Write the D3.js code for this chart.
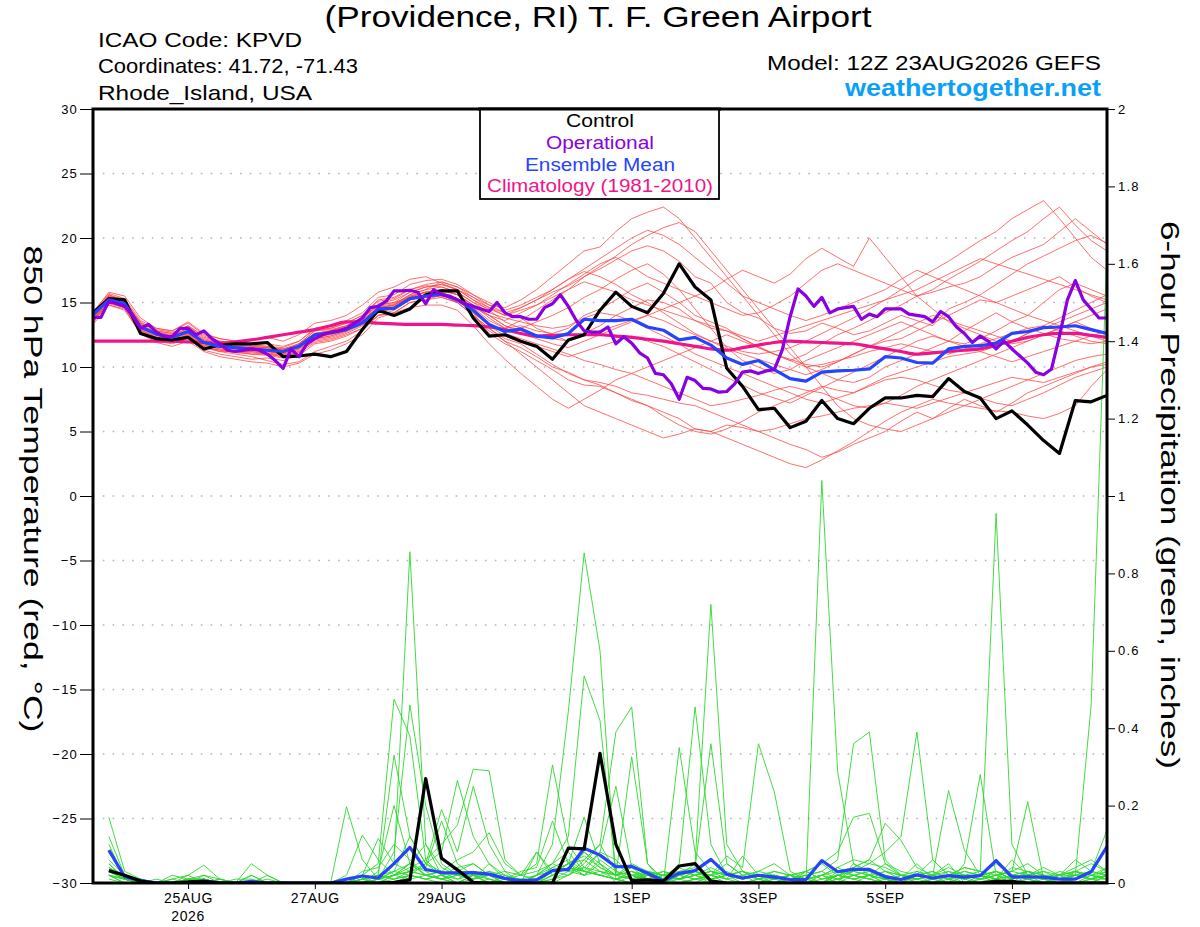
<!DOCTYPE html>
<html>
<head>
<meta charset="utf-8">
<script src="https://cdn.jsdelivr.net/npm/d3@7"></script>
<style>
body { margin: 0; background: #fff; }
svg { font-family: "Liberation Sans", Arial, Helvetica, sans-serif; }
</style>
</head>
<body>
<svg id="chart" width="1200" height="927"></svg>
<script>
// run info
const runStart = Date.UTC(2026, 7, 23, 12);
const SIX_H = 6 * 3600 * 1000;

// axis ticks
const tempTicks = [-30, -25, -20, -15, -10, -5, 0, 5, 10, 15, 20, 25, 30];
const tempGrid = [-25, -20, -15, -10, -5, 0, 5, 10, 15, 20, 25];
const precipTicks = [0, 0.2, 0.4, 0.6, 0.8, 1, 1.2, 1.4, 1.6, 1.8, 2];
const precipTickLabels = ["0", "0.2", "0.4", "0.6", "0.8", "1", "1.2", "1.4", "1.6", "1.8", "2"];
const dateTicks = [Date.UTC(2026, 7, 25), Date.UTC(2026, 7, 27), Date.UTC(2026, 7, 29), Date.UTC(2026, 8, 1),
                   Date.UTC(2026, 8, 3), Date.UTC(2026, 8, 5), Date.UTC(2026, 8, 7)];
const dateTickLabels = ["25AUG", "27AUG", "29AUG", "1SEP", "3SEP", "5SEP", "7SEP"];

// 850 hPa temperature, 6-hourly from 12Z 23AUG (65 values)
const controlTemp = [14.2,15.3,15.2,12.6,12.2,12.1,12.3,11.4,11.7,11.8,11.8,11.9,10.8,10.85,11.0,10.8,
  11.2,12.9,14.4,14.0,14.5,15.6,15.9,15.9,13.8,12.4,12.5,12.0,11.6,10.6,12.1,12.5,
  14.4,15.8,14.7,14.2,15.7,18.0,16.2,15.2,9.9,8.5,6.7,6.8,5.3,5.8,7.4,6.0,
  5.6,6.8,7.6,7.6,7.8,7.7,9.1,8.1,7.6,6.0,6.6,5.5,4.3,3.3,7.4,7.3,7.8];
const meanTemp = [14.05,15.2,14.9,13.1,12.55,12.3,12.75,11.9,11.6,11.5,11.4,11.3,11.2,11.6,12.5,12.65,
  12.9,13.4,14.5,14.55,15.3,15.5,15.65,15.2,14.4,13.3,12.75,12.95,12.4,12.25,12.6,13.7,
  13.6,13.6,13.7,13.1,12.85,12.1,12.3,11.7,10.7,10.2,10.5,9.8,9.1,8.9,9.6,9.7,
  9.75,9.85,10.8,10.7,10.35,10.3,11.4,11.6,11.65,11.85,12.6,12.75,13.05,13.1,13.2,12.9,12.6];
const climoTemp = [12.0,12.0,12.0,12.0,12.0,12.0,11.95,11.9,11.85,11.95,12.1,12.3,12.5,12.7,12.9,13.2,
  13.5,13.5,13.4,13.35,13.3,13.3,13.3,13.25,13.2,13.1,12.9,12.6,12.4,12.45,12.5,12.5,
  12.5,12.4,12.3,12.15,12.0,11.8,11.6,11.4,11.3,11.5,11.7,11.9,12.0,11.95,11.9,11.85,
  11.8,11.6,11.4,11.2,11.0,11.1,11.2,11.3,11.4,11.7,12.0,12.3,12.5,12.6,12.6,12.45,12.3];
// operational run is 3-hourly (129 values)
const operTemp = [13.85,13.85,15.1,14.9,14.7,14.0,13.0,13.3,12.7,12.35,12.35,13.0,13.0,12.5,12.8,12.2,
  11.8,11.3,11.2,11.3,11.4,11.3,11.0,10.5,9.9,11.4,10.8,11.8,12.2,12.5,12.7,12.8,
  13.0,13.4,13.8,14.6,14.7,15.1,15.9,15.9,15.95,15.8,14.9,16.0,15.6,15.5,15.2,14.9,
  14.7,14.5,14.3,15.0,14.2,13.9,13.9,13.7,13.7,14.6,14.9,15.6,14.7,13.6,12.8,12.7,
  12.7,13.1,11.8,12.35,11.85,11.1,10.7,9.5,9.4,8.7,7.5,9.2,8.95,8.35,8.3,8.05,
  8.1,8.7,9.6,9.7,9.5,9.7,9.8,11.3,13.9,16.05,15.5,14.7,15.4,14.2,14.5,14.6,
  14.7,13.7,14.1,13.9,14.5,14.5,14.5,14.1,14.0,13.9,13.5,14.3,13.9,13.1,12.6,11.9,
  12.4,12.0,11.4,12.0,11.4,10.85,10.3,9.6,9.4,9.85,12.4,15.2,16.7,15.2,14.5,13.8,13.8];

// ensemble members, temperature
const tMem01 = [13.8,15.6,15.0,13.5,12.8,12.6,13.2,12.4,12.0,11.9,11.7,11.6,11.5,12.0,12.9,13.0,
  13.4,14.0,15.2,15.4,16.0,16.3,16.2,15.8,15.0,14.5,14.0,14.6,15.2,15.8,16.3,17.0,
  17.6,18.3,19.0,19.4,19.0,18.2,17.0,16.5,15.0,14.2,13.8,13.0,12.6,12.8,13.4,13.0,
  12.5,12.8,13.4,14.0,13.6,13.2,14.5,15.0,15.6,16.4,17.2,18.0,18.6,19.2,19.8,20.2,19.6];
const tMem02 = [13.5,15.0,14.6,12.8,12.0,11.8,12.2,11.3,11.0,10.8,10.6,10.7,10.5,10.9,11.8,12.0,
  12.4,13.0,14.0,14.2,15.0,15.2,15.6,15.0,14.0,12.8,12.0,11.5,10.8,10.0,9.6,9.0,
  8.6,8.0,7.4,7.0,6.5,6.0,5.2,5.0,5.5,5.3,5.0,4.5,4.0,3.6,3.0,3.4,
  4.0,4.5,5.0,5.8,6.5,6.0,6.8,7.5,7.0,6.5,7.2,8.0,8.5,9.0,9.5,10.0,10.4];
const tMem03 = [14.2,15.8,15.5,13.8,13.0,12.8,13.5,12.6,12.2,12.0,12.1,12.3,12.0,12.5,13.4,13.6,
  14.0,14.8,15.8,16.2,16.8,17.0,16.5,16.0,15.4,14.8,14.6,15.2,16.0,17.0,18.0,19.0,
  19.3,20.5,21.5,22.0,22.4,21.5,20.0,18.5,17.0,15.5,14.0,12.5,11.0,10.0,9.5,9.0,
  8.8,9.2,10.0,10.5,11.0,11.5,12.0,12.8,13.5,14.2,13.5,13.0,12.6,12.2,12.0,11.8,12.0];
const tMem04 = [13.6,14.8,14.5,12.6,12.2,12.0,12.4,11.6,11.2,11.2,11.0,11.0,11.0,11.4,12.2,12.4,
  12.8,13.5,14.5,14.8,15.5,15.8,15.9,15.6,14.8,13.8,13.0,13.2,12.8,12.6,13.0,14.0,
  14.5,15.2,16.0,16.5,15.8,15.0,14.0,13.5,13.0,12.2,11.5,11.0,10.5,11.0,11.8,12.5,
  13.0,13.6,14.2,14.8,15.5,16.0,16.8,17.5,18.2,19.0,19.8,20.5,21.5,22.4,21.0,19.8,19.0];
const tMem05 = [13.4,15.2,14.8,12.9,12.3,12.0,12.5,11.5,11.2,11.0,10.8,10.5,10.2,10.4,11.2,11.6,
  12.0,12.8,14.0,14.4,15.2,15.6,15.8,15.3,14.2,12.6,11.8,11.2,10.5,9.8,9.0,8.6,
  8.5,8.0,7.5,7.0,6.2,5.5,5.0,4.8,5.2,5.8,6.5,7.0,7.5,8.0,8.5,8.2,
  8.0,8.5,9.0,9.2,9.0,8.6,8.2,8.0,7.6,7.2,7.0,7.5,8.0,8.6,9.2,9.6,10.0];
const tMem06 = [14.0,15.4,15.1,13.2,12.7,12.5,13.0,12.1,11.8,11.6,11.5,11.4,11.2,11.5,12.4,12.7,
  13.0,13.6,14.6,14.8,15.6,16.0,16.6,16.2,15.6,14.8,14.2,13.8,13.0,12.5,12.0,12.6,
  13.2,14.0,14.6,15.2,15.0,14.5,13.6,13.0,12.8,12.2,11.6,11.0,10.6,10.2,10.0,10.4,
  11.0,11.6,12.0,12.2,12.8,13.4,14.0,14.6,15.2,15.0,14.5,14.0,13.6,13.2,12.8,12.4,12.0];
const tMem07 = [13.8,15.0,14.8,13.0,12.4,12.2,12.8,11.8,11.6,11.4,11.4,11.2,11.0,11.8,12.8,12.9,
  13.2,13.8,14.8,15.0,15.4,15.4,15.5,15.2,14.6,14.0,13.6,14.2,14.8,15.6,16.4,17.2,
  18.0,18.5,17.8,17.0,16.5,16.0,15.5,15.0,14.5,14.0,14.2,14.8,15.5,16.5,17.5,18.0,
  17.5,17.0,16.5,16.0,15.5,15.8,16.2,16.5,17.0,17.8,18.5,19.0,19.5,20.5,21.5,20.5,19.5];
const tMem08 = [13.6,15.3,14.9,13.1,12.5,12.2,12.6,11.7,11.4,11.2,11.2,11.0,10.8,11.2,12.0,12.2,
  12.6,13.2,14.2,14.6,15.4,15.6,15.4,15.0,14.0,13.0,12.0,11.0,10.0,9.0,8.0,7.0,
  6.5,6.0,5.5,5.0,4.5,4.8,5.2,5.0,4.5,4.0,3.5,3.0,2.5,2.2,2.8,3.5,
  4.2,5.0,5.8,6.5,7.0,7.5,7.2,7.0,6.8,6.6,6.5,6.2,6.0,6.4,7.0,8.5,9.8];
const tMem09 = [14.1,15.5,15.2,13.4,12.9,12.7,13.1,12.2,11.9,11.8,11.6,11.5,11.4,11.7,12.6,12.8,
  13.2,13.8,14.9,15.2,15.8,16.2,16.4,16.0,15.2,14.4,13.5,13.0,13.5,14.0,14.6,15.4,
  16.0,16.8,17.5,18.0,17.2,16.0,14.5,13.0,11.5,10.5,10.0,9.5,9.8,10.5,11.0,11.5,
  12.0,12.5,13.0,13.5,13.0,12.5,12.0,11.8,12.2,12.8,13.5,14.0,15.0,16.0,16.5,16.0,15.5];
const tMem10 = [13.9,15.1,14.7,12.9,12.3,12.1,12.6,11.8,11.5,11.4,11.3,11.2,11.0,11.4,12.4,12.6,
  13.0,13.6,14.6,14.8,15.4,15.8,16.0,15.6,14.8,14.0,13.2,12.6,12.2,11.8,11.5,12.0,
  12.5,13.0,13.5,14.0,14.5,15.0,15.5,16.0,16.8,17.5,17.0,16.5,17.2,18.4,19.2,18.5,
  17.8,20.0,18.5,17.0,15.5,14.5,13.5,13.0,12.5,12.0,11.8,12.0,12.5,13.0,13.5,14.0,14.5];
const tMem11 = [13.3,14.8,14.4,12.6,11.9,11.6,12.0,11.2,10.8,10.6,10.4,10.3,10.0,10.3,11.0,11.3,
  11.8,12.5,13.8,14.2,15.0,15.2,15.4,15.0,14.0,13.0,12.2,11.8,11.0,10.2,9.5,9.0,
  8.8,8.5,8.0,7.8,7.5,7.2,7.0,6.5,6.0,5.5,5.0,5.2,5.6,6.0,6.2,6.5,
  6.8,7.0,7.2,7.0,6.8,7.2,7.6,8.0,8.4,8.8,9.2,9.0,8.8,9.2,9.6,10.0,10.2];
const tMem12 = [14.3,15.7,15.3,13.6,13.0,12.8,13.4,12.5,12.2,12.0,11.8,11.8,11.6,12.0,13.0,13.2,
  13.6,14.2,15.4,15.6,16.4,16.7,16.8,16.4,15.6,15.0,14.4,14.8,15.4,16.0,16.8,17.6,
  18.4,19.2,20.0,20.6,20.2,19.5,18.5,17.5,16.5,15.5,15.0,14.5,14.0,13.6,14.0,14.5,
  15.0,15.5,16.0,16.8,17.5,17.0,16.5,16.0,15.5,15.0,15.5,16.0,16.5,17.0,16.2,15.5,15.0];
const tMem13 = [13.7,14.9,14.6,12.7,12.1,11.9,12.3,11.5,11.3,11.1,11.0,10.9,10.7,11.1,11.9,12.1,
  12.5,13.0,14.0,14.2,14.6,14.8,14.8,14.4,13.2,11.8,10.6,9.5,8.5,7.5,6.8,7.5,
  8.2,9.0,9.5,10.0,10.5,11.0,11.5,12.0,12.5,12.0,11.5,11.0,10.5,10.0,10.2,10.5,
  10.8,11.2,11.5,11.8,11.5,11.2,11.0,11.4,11.8,12.2,12.6,13.0,13.2,12.8,12.4,12.0,11.8];
const tMem14 = [14.0,15.3,15.0,13.3,12.6,12.4,12.9,12.0,11.7,11.6,11.5,11.5,11.3,11.8,12.6,12.8,
  13.1,13.7,14.7,14.9,15.6,16.0,16.2,15.8,15.0,14.2,13.8,13.5,13.2,13.0,13.2,13.8,
  14.2,14.0,13.6,13.0,12.4,11.8,11.0,10.5,10.0,9.5,9.0,8.5,8.0,7.5,7.2,7.6,
  8.0,8.6,9.2,9.6,10.0,10.4,10.8,11.0,11.2,11.6,12.0,12.6,13.0,13.5,14.0,14.5,15.0];
const tMem15 = [13.5,15.0,14.7,12.9,12.2,12.0,12.5,11.7,11.4,11.2,11.2,11.1,10.9,11.3,12.2,12.4,
  12.8,13.4,14.5,14.7,15.4,15.8,16.0,15.6,14.6,13.6,13.0,13.6,14.4,15.2,16.0,17.0,
  17.8,18.6,19.5,20.2,20.8,21.2,20.5,19.0,17.5,16.0,14.5,13.0,11.5,10.0,8.5,7.0,
  6.0,5.5,5.2,5.0,5.5,6.0,6.5,7.0,7.5,8.0,8.5,9.0,9.5,10.0,10.5,10.8,11.0];
const tMem16 = [13.9,15.2,14.9,13.1,12.5,12.3,12.8,11.9,11.6,11.5,11.4,11.3,11.1,11.6,12.5,12.7,
  13.0,13.6,14.6,14.8,15.5,15.8,16.0,15.6,14.8,14.0,13.2,12.8,12.5,12.2,12.0,12.4,
  12.8,13.2,13.6,14.0,13.6,13.0,12.5,12.0,11.6,11.2,11.0,11.2,11.5,12.0,12.6,13.2,
  13.8,14.5,15.2,16.0,16.8,17.5,18.2,19.0,19.8,20.5,21.5,22.2,22.9,21.5,20.0,18.5,17.5];
const tMem17 = [13.6,15.4,15.0,13.2,12.6,12.4,12.8,11.9,11.6,11.4,11.3,11.2,11.1,11.5,12.3,12.5,
  12.9,13.5,14.4,14.6,15.3,15.6,15.7,15.3,14.4,13.4,12.6,12.2,11.8,11.4,11.0,10.5,
  10.2,9.8,9.5,9.0,8.5,8.0,7.5,7.0,7.2,7.5,7.8,8.2,8.5,8.2,8.0,7.5,
  7.0,6.8,7.2,7.8,8.5,9.0,9.5,10.0,10.5,11.0,11.5,12.0,12.5,13.0,13.5,13.0,12.5];
const tMem18 = [14.2,15.6,15.2,13.4,12.8,12.6,13.2,12.3,12.0,11.8,11.7,11.6,11.4,11.8,12.8,13.0,
  13.4,14.0,15.1,15.3,16.0,16.4,16.6,16.2,15.4,14.6,14.0,14.4,14.8,15.4,16.0,16.6,
  16.2,15.8,15.2,14.8,14.4,14.0,13.6,13.2,12.8,12.4,12.0,12.4,12.8,13.2,13.6,14.0,
  14.4,14.8,15.2,15.6,16.0,16.6,17.2,17.8,18.4,18.0,17.6,17.2,16.8,16.4,16.0,15.6,15.2];
const tMem19 = [13.7,15.0,14.7,12.8,12.2,12.0,12.5,11.6,11.3,11.2,11.1,11.0,10.8,11.2,12.1,12.3,
  12.7,13.3,14.3,14.5,15.2,15.5,15.6,15.2,14.2,13.2,12.4,12.0,11.6,11.2,10.8,11.2,
  11.6,12.0,12.4,12.0,11.6,11.0,10.4,9.8,9.2,8.6,8.0,7.6,7.2,7.8,8.4,9.0,
  9.6,10.2,10.8,11.4,12.0,12.4,12.0,11.6,11.2,10.8,10.4,10.8,11.2,11.6,12.0,12.4,12.8];
const tMem20 = [14.0,15.5,15.1,13.3,12.7,12.4,13.0,12.1,11.8,11.7,11.6,11.5,11.3,11.7,12.6,12.8,
  13.2,13.8,14.8,15.0,15.8,16.2,16.4,16.0,15.2,14.6,14.2,14.6,15.2,16.0,16.8,17.4,
  17.0,16.4,15.6,15.0,14.2,13.4,12.6,12.0,11.4,11.0,10.6,10.2,9.8,9.4,9.8,10.4,
  11.0,11.6,12.2,12.8,13.4,14.0,13.6,13.2,12.8,12.4,12.0,12.6,13.2,13.8,14.4,15.0,15.6];
const tMembers = [tMem01, tMem02, tMem03, tMem04, tMem05, tMem06, tMem07, tMem08, tMem09, tMem10,
                  tMem11, tMem12, tMem13, tMem14, tMem15, tMem16, tMem17, tMem18, tMem19, tMem20];

// 6-hour precipitation, 18Z 23AUG onward (64 values)
const controlPrecip = [.032,.02,.005,0,0,.003,.004,0,0,0,0,0,0,0,0,0,
  0,0,.002,.008,.27,.064,.034,.002,0,0,0,0,0,.09,.088,.335,
  .1,.006,.008,.005,.044,.05,.005,0,0,0,0,0,0,0,0,0,
  0,0,0,0,0,0,0,0,.004,.004,0,0,0,0,0,0];
const meanPrecip = [.085,.016,.006,0,0,.002,.005,.001,0,.004,0,0,0,0,0,.01,
  .018,.013,.05,.092,.035,.027,.026,.027,.023,.012,.006,.008,.032,.035,.09,.072,
  .042,.043,.025,.006,.025,.032,.061,.023,.013,.02,.015,.009,.009,.058,.029,.035,
  .035,.016,.009,.021,.013,.019,.015,.019,.058,.016,.016,.015,.01,.01,.029,.094];

const pMem01 = [.17,.03,.01,0,0,.01,.01,0,0,0,0,0,0,0,0,.197, .06,.01,0,.02,.01,0,0,.02,0,0,0,0,.02,.05,.17,.05,
  0,.02,0,0,0,.01,0,0,0,0,0,.01,0,0,0,.02, .01,0,0,0,.01,0,0,.02,0,0,.01,0,0,0,.01,0];
const pMem02 = [.12,.02,.01,0,.01,.02,.046,.01,0,0,0,0,0,0,0,.02, .124,.06,.02,.05,.03,.01,0,.02,.01,0,0,0,0,.02,.06,.1,
  .39,.455,.05,0,.01,.02,0,0,0,.01,0,0,.01,0,.01,.03, .02,0,0,.02,0,.01,0,0,.01,0,0,0,.02,0,0,.02];
const pMem03 = [.1,.01,0,0,0,.01,.01,0,0,.05,.02,0,0,0,0,0, .02,.115,.05,.03,.02,.01,0,0,.01,0,0,0,.01,.03,.04,.08,
  .25,.04,.01,0,0,.01,.02,0,0,0,.01,.02,0,0,.02,.01, 0,.01,0,0,.01,.02,.04,.03,.955,.1,.02,0,.01,0,0,.02];
const pMem04 = [.08,.02,.01,0,.02,.01,.02,.01,0,0,.02,0,0,0,0,0, .02,.05,.475,.38,.06,.02,.01,.03,.02,0,.01,0,.02,.04,.03,.02,
  .01,0,.02,.01,0,.01,.01,0,0,0,.02,.01,0,0,.02,.03, .02,.01,0,.03,.02,0,.05,.28,.02,0,.01,0,0,.01,.02,.01];
const pMem05 = [.06,.02,0,0,0,0,.01,0,0,.02,0,0,0,0,0,0, 0,.02,.33,.12,.05,.02,0,.02,0,.02,0,0,.03,.05,.02,.03,
  .02,.326,.05,.01,.01,.03,.02,.01,0,0,0,0,.01,.02,.01,0, .02,0,.01,.01,.02,.05,0,.01,.02,.03,.21,.01,0,0,.02,.03];
const pMem06 = [.05,.01,0,0,.01,0,.02,0,0,0,0,0,0,0,0,0, 0,.03,.2,.05,.02,.01,.03,.05,.02,.01,0,.02,.05,.08,.03,.02,
  .05,.02,.02,0,.35,.08,.03,.02,0,.01,.03,.02,0,.02,0,.05, .02,.05,.02,0,.01,.02,0,.01,.02,.03,.05,.02,.02,.06,.03,.137];
const pMem07 = [.04,.01,0,0,0,.01,.01,0,0,0,0,0,0,0,0,0, .03,.04,.1,.06,.02,.01,.02,.02,0,.01,0,.08,.02,.04,.02,.05,
  .02,.05,.03,.01,.05,.455,.1,.02,.01,.02,0,.02,.01,.02,.04,.02, .01,.03,.02,.02,.03,.01,.02,.03,.01,0,.03,.01,.02,.02,.01,.04];
const pMem08 = [.03,.01,0,0,0,0,0,.01,0,0,0,0,0,0,0,0, .01,.02,.05,.856,.1,.02,0,.01,.02,0,0,.01,.03,.05,.06,.03,
  .01,0,.03,.01,.02,.05,.72,.1,.03,.01,0,.01,.02,0,.01,.02, .01,0,.02,.01,0,.02,.01,0,.01,.02,0,.01,0,.02,.01,.01];
const pMem09 = [.02,.01,0,0,0,.01,0,0,0,0,.01,0,0,0,0,0, 0,.01,.08,.46,.2,.05,.02,.01,.05,.01,0,0,.01,.02,.05,.1,
  .03,.01,0,.02,.01,0,.02,.05,.02,0,.01,.02,0,.01,.02,.01, .02,.01,0,.01,.02,.01,0,.02,.03,.01,.02,.01,.03,.02,.46,1.64];
const pMem10 = [.03,.02,.01,0,0,0,.01,0,0,.02,0,0,0,0,0,0, .02,.01,.03,.12,.05,.03,.02,.01,.03,.01,0,.02,.04,.06,.03,.08,
  .06,.02,.01,.02,.03,.04,.36,.05,.02,.01,0,.01,0,0,.03,.02, .03,.02,.01,.05,.01,0,.02,.01,0,.02,.03,.02,.01,.02,.01,.02];
const pMem11 = [.02,0,0,0,0,0,0,0,0,0,0,0,0,0,0,0, .01,0,.02,.05,.1,.04,.02,.03,.01,0,0,.02,.05,.03,.08,.05,
  .02,.03,.01,0,.02,.01,.02,.07,.04,.36,.236,.03,.01,0,.02,.01, .02,.01,0,.02,.03,.01,.02,.02,0,.01,.02,.04,.02,0,.01,.02];
const pMem12 = [.03,.01,0,.01,0,0,.01,0,0,0,0,0,0,0,0,0, .01,0,.01,.02,.05,.19,.08,.25,.1,.03,0,.02,.03,.05,.07,.04,
  .02,.01,.03,.02,.01,.03,.02,.01,.07,.02,.01,0,.03,.05,.02,.04, .06,.03,.02,.01,.02,.04,.02,.01,.02,.03,.02,.01,0,.03,.05,.03];
const pMem13 = [.02,.01,.01,0,0,.01,0,0,.01,.01,0,0,0,0,0,0, 0,0,.02,.03,.04,.16,.05,.02,.02,.01,0,0,.02,.04,.03,.02,
  .01,0,.02,.01,.03,.02,.04,.02,.01,.02,.01,.02,0,1.04,.288,.05, .03,.02,.01,.02,.01,.03,.01,.02,.05,.02,.01,.02,.01,.02,.01,.03];
const pMem14 = [.05,.01,0,0,0,0,.01,0,0,0,0,0,0,0,0,0, .01,.02,.01,.03,.05,.08,.265,.12,.05,.02,0,.01,.04,.03,.02,.06,
  .03,.02,.01,0,.02,.03,.01,.02,.03,.01,.02,.01,.02,.03,.06,.36, .39,.06,.02,.01,.02,.03,.02,.01,.03,.02,.01,0,.02,.03,.02,.01];
const pMem15 = [.04,.02,.01,0,0,.02,0,.01,0,0,0,0,0,0,0,0, 0,.01,.02,.04,.06,.1,.15,.294,.29,.06,.02,.08,.03,.02,.04,.03,
  .02,.04,.03,.02,.01,.02,.03,.01,.02,.03,.05,.02,.01,.02,.04,.06, .05,.04,.02,.03,.01,.02,.03,.02,.01,.04,.03,.02,.01,.03,.02,.04];
const pMem16 = [.03,.01,0,0,0,0,0,0,0,0,0,0,0,0,0,0, .02,.01,.03,.05,.02,.03,.06,.08,.13,.05,.02,.01,.03,.05,.08,.04,
  .02,.03,.01,.02,.04,.02,.03,.02,.01,.03,.02,.01,.03,.05,.08,.17, .18,.05,.03,.02,.01,.02,.04,.03,.02,.01,.03,.02,.01,.02,.03,.02];
const pMem17 = [.02,.01,0,0,0,0,0,0,0,0,0,0,0,0,0,0, .01,.02,.03,.02,.01,.02,.04,.05,.02,.03,.02,.05,.305,.1,.04,.02,
  .01,.02,.03,.02,.01,.02,.03,.02,.01,.02,.03,.02,.01,.02,.03,.04, .06,.154,.11,.04,.02,.01,.03,.02,.01,.02,.03,.01,.02,.03,.01,.02];
const pMem18 = [.02,0,0,0,0,0,0,0,0,0,0,0,0,0,0,0, 0,.01,.02,.03,.02,.01,.02,.03,.02,.01,.03,.04,.16,.05,.03,.02,
  .01,.03,.02,.01,.02,.03,.01,.02,.03,.02,.01,.02,.03,.01,.02,.03, .05,.08,.12,.39,.06,.02,.01,.02,.03,.01,.02,.03,.01,.02,.03,.02];
const pMem19 = [.01,0,0,0,0,0,0,0,0,0,0,0,0,0,0,0, 0,.01,.02,.01,.02,.03,.01,.02,.03,.02,.01,.02,.1,.443,.853,.6,
  .01,.02,.01,.03,.02,.01,.02,.03,.01,.02,.01,.02,.03,.01,.02,.01, .02,.03,.01,.02,.06,.02,.01,.02,.03,.01,.02,.01,.02,.03,.02,.01];
const pMem20 = [.02,.01,0,0,0,0,0,0,0,0,0,0,0,0,0,0, .01,.02,.01,.02,.01,.02,.03,.01,.02,.01,.02,.03,.05,.12,.535,.42,
  .02,.01,.02,.03,.01,.02,.01,.02,.03,.01,.02,.01,.02,.03,.01,.02, .03,.01,.02,.01,.02,.239,.085,.02,.01,.06,.02,.03,.02,.04,.06,.03];
const pMembers = [pMem01, pMem02, pMem03, pMem04, pMem05, pMem06, pMem07, pMem08, pMem09, pMem10,
                  pMem11, pMem12, pMem13, pMem14, pMem15, pMem16, pMem17, pMem18, pMem19, pMem20];

const legendItems = [
    { label: "Control", color: "#000000", width: 68 },
    { label: "Operational", color: "#8a00e0", width: 108 },
    { label: "Ensemble Mean", color: "#2444ff", width: 150 },
    { label: "Climatology (1981-2010)", color: "#f0148a", width: 226 }
];

const plot = { left: 93, right: 1107, top: 109, bottom: 883 };
const svg = d3.select("#chart");

const x = d3.scaleUtc()
    .domain([new Date(runStart), new Date(runStart + 64 * SIX_H)])
    .range([plot.left, plot.right]);
const yT = d3.scaleLinear().domain([-30, 30]).range([plot.bottom, plot.top]);
const yP = d3.scaleLinear().domain([0, 2]).range([plot.bottom, plot.top]);

function time6(i) { return new Date(runStart + i * SIX_H); }

function drawHeader() {
    const txt = (xp, yp, s, size, len, anchor) => svg.append("text")
        .attr("x", xp).attr("y", yp)
        .attr("font-size", size)
        .attr("text-anchor", anchor || "start")
        .attr("textLength", len)
        .attr("lengthAdjust", "spacingAndGlyphs")
        .text(s);
    txt(598, 27, "(Providence, RI) T. F. Green Airport", 30, 547, "middle");
    txt(98, 47, "ICAO Code: KPVD", 21, 204);
    txt(98, 73, "Coordinates: 41.72, -71.43", 21, 260);
    txt(98, 100, "Rhode_Island, USA", 21, 214);
    txt(1101, 70, "Model: 12Z 23AUG2026 GEFS", 21, 334, "end");
    txt(1101, 96, "weathertogether.net", 23, 256, "end")
        .attr("font-weight", "bold")
        .attr("fill", "#0aa0f8");
}

function drawAxes() {
    // dotted grid
    svg.append("g").selectAll("line")
        .data(tempGrid)
        .join("line")
        .attr("x1", plot.left).attr("x2", plot.right)
        .attr("y1", d => yT(d)).attr("y2", d => yT(d))
        .attr("stroke", "#b4b4b4")
        .attr("stroke-width", 1.6)
        .attr("stroke-dasharray", "1.6,8.2");

    const left = svg.append("g")
        .attr("transform", `translate(${plot.left},0)`)
        .call(d3.axisLeft(yT).tickValues(tempTicks).tickSize(13).tickPadding(2));
    const right = svg.append("g")
        .attr("transform", `translate(${plot.right},0)`)
        .call(d3.axisRight(yP).tickValues(precipTicks).tickSize(8).tickPadding(3)
            .tickFormat((d, i) => precipTickLabels[i]));
    const bottom = svg.append("g")
        .attr("transform", `translate(0,${plot.bottom})`)
        .call(d3.axisBottom(x).tickValues(dateTicks.map(d => new Date(d))).tickSize(6).tickPadding(4)
            .tickFormat((d, i) => dateTickLabels[i]));

    [left, right, bottom].forEach(g => {
        g.select(".domain").remove();
        g.selectAll(".tick line").attr("stroke", "#000").attr("stroke-width", 1);
        g.selectAll(".tick text")
            .attr("fill", "#000")
            .attr("font-family", "'Liberation Sans', Arial, sans-serif");
    });
    left.selectAll(".tick text").attr("font-size", 13).attr("letter-spacing", 1.2);
    right.selectAll(".tick text").attr("font-size", 13).attr("letter-spacing", 1.2);
    bottom.selectAll(".tick text").attr("font-size", 14).attr("letter-spacing", 0.6);

    svg.append("text")
        .attr("x", x(new Date(dateTicks[0])))
        .attr("y", 921)
        .attr("text-anchor", "middle")
        .attr("font-size", 14)
        .attr("letter-spacing", 0.6)
        .text("2026");

    // axis titles, reading top to bottom
    svg.append("text")
        .attr("transform", "translate(33,489) rotate(90)")
        .attr("dy", "0.35em")
        .attr("text-anchor", "middle")
        .attr("font-size", 26)
        .attr("textLength", 487)
        .attr("lengthAdjust", "spacingAndGlyphs")
        .text("850 hPa Temperature (red, °C)");
    svg.append("text")
        .attr("transform", "translate(1170,495) rotate(90)")
        .attr("dy", "0.35em")
        .attr("text-anchor", "middle")
        .attr("font-size", 26)
        .attr("textLength", 548)
        .attr("lengthAdjust", "spacingAndGlyphs")
        .text("6-hour Precipitation (green, inches)");
}

function drawSeries() {
    svg.append("clipPath").attr("id", "plot-clip")
        .append("rect")
        .attr("x", plot.left).attr("y", plot.top)
        .attr("width", plot.right - plot.left).attr("height", plot.bottom - plot.top);
    const g = svg.append("g").attr("clip-path", "url(#plot-clip)");

    const tempLine = d3.line().x((d, i) => x(time6(i))).y(d => yT(d));
    const operLine = d3.line().x((d, j) => x(new Date(runStart + j * SIX_H / 2))).y(d => yT(d));
    const precipLine = d3.line().x((d, k) => x(time6(k + 1))).y(d => yP(d));

    g.selectAll(".temp-member")
        .data(tMembers)
        .join("path")
        .attr("class", "temp-member")
        .attr("d", tempLine)
        .attr("fill", "none")
        .attr("stroke", "#ff4a4a")
        .attr("stroke-width", 0.8);

    g.selectAll(".precip-member")
        .data(pMembers)
        .join("path")
        .attr("class", "precip-member")
        .attr("d", precipLine)
        .attr("fill", "none")
        .attr("stroke", "#2ed82e")
        .attr("stroke-width", 0.9);

    const thick = (data, gen, color) => g.append("path")
        .datum(data)
        .attr("d", gen)
        .attr("fill", "none")
        .attr("stroke", color)
        .attr("stroke-width", 3.2)
        .attr("stroke-linejoin", "round");

    thick(climoTemp, tempLine.curve(d3.curveMonotoneX), "#f0148a");
    tempLine.curve(d3.curveLinear);
    thick(controlTemp, tempLine, "#000000");
    thick(meanTemp, tempLine, "#2444ff");
    thick(operTemp, operLine, "#8a00e0");
    thick(meanPrecip, precipLine, "#2444ff");
    thick(controlPrecip, precipLine, "#000000");
}

function drawFrameAndLegend() {
    svg.append("rect")
        .attr("x", plot.left).attr("y", plot.top)
        .attr("width", plot.right - plot.left).attr("height", plot.bottom - plot.top)
        .attr("fill", "none")
        .attr("stroke", "#000")
        .attr("stroke-width", 3);

    const lg = svg.append("g");
    lg.append("rect")
        .attr("x", 480).attr("y", plot.top)
        .attr("width", 239).attr("height", 90)
        .attr("fill", "#fff")
        .attr("stroke", "#000")
        .attr("stroke-width", 1.8);
    lg.selectAll("text")
        .data(legendItems)
        .join("text")
        .attr("x", 600)
        .attr("y", (d, i) => 127 + i * 21.8)
        .attr("text-anchor", "middle")
        .attr("font-size", 17.5)
        .attr("fill", d => d.color)
        .attr("textLength", d => d.width)
        .attr("lengthAdjust", "spacingAndGlyphs")
        .text(d => d.label);
    svg.append("line")
        .attr("x1", 478).attr("x2", 721)
        .attr("y1", plot.top).attr("y2", plot.top)
        .attr("stroke", "#000").attr("stroke-width", 3);
}

drawHeader();
drawAxes();
drawSeries();
drawFrameAndLegend();
</script>
</body>
</html>
